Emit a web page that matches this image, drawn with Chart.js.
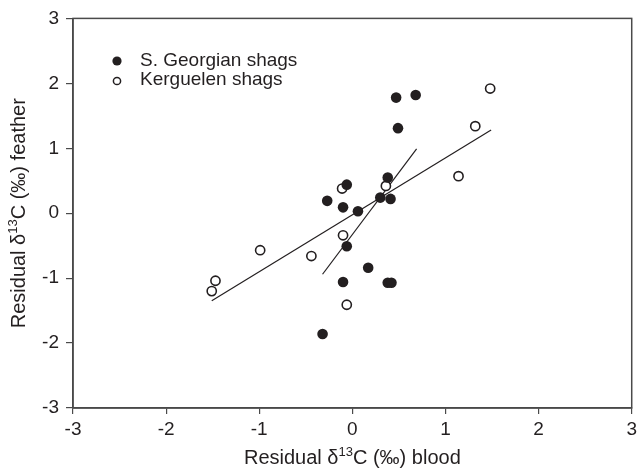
<!DOCTYPE html>
<html>
<head>
<meta charset="utf-8">
<script src="https://cdn.jsdelivr.net/npm/chart.js@4/dist/chart.umd.min.js"></script>
<style>
  html, body { margin: 0; padding: 0; background: #fff; }
  #wrap { width: 641px; height: 475px; }
</style>
</head>
<body>
<div id="wrap"><canvas id="scatter_graph" width="641" height="475"></canvas></div>
<script>
// ---------------- data ---------------- >>
const georgianX = [0.47, 0.68, 0.49, 0.38, -0.06, -0.27, -0.10, 0.06, 0.30, 0.41, -0.06, 0.17, -0.10, 0.38, 0.42, -0.32];
const georgianY = [1.78, 1.82, 1.31, 0.55, 0.44, 0.19, 0.09, 0.03, 0.24, 0.22, -0.51, -0.84, -1.06, -1.07, -1.07, -1.86];
const kerguelenX = [1.48, 1.32, 1.14, 0.36, -0.11, -0.10, -0.99, -0.44, -1.47, -1.51, -0.06];
const kerguelenY = [1.92, 1.34, 0.57, 0.42, 0.38, -0.34, -0.57, -0.66, -1.04, -1.20, -1.41];
const allFitX = [-1.51, 1.49];
const allFitY = [-1.35, 1.28];
const georgianFitX = [-0.32, 0.69];
const georgianFitY = [-0.94, 0.99];
const tickValues = [-3, -2, -1, 0, 1, 2, 3];
const legendLabels = ['S. Georgian shags', 'Kerguelen shags'];

const ink = '#231f20';
const frame = '#4a4a4a';
const fontFam = '"Liberation Sans", Arial, Helvetica, sans-serif';

function pts(xs, ys) {
    return xs.map((x, i) => ({ x: x, y: ys[i] }));
}

// frame, legend and axis titles (titles need the superscript 13)
const extras = {
    id: 'extras',
    afterDraw(chart) {
        const c = chart.ctx;
        const a = chart.chartArea;
        c.save();
        c.strokeStyle = frame;
        c.lineWidth = 1.5;
        c.strokeRect(a.left, a.top, a.right - a.left, a.bottom - a.top);

        // legend
        c.fillStyle = ink;
        c.beginPath();
        c.arc(117, 61, 4.6, 0, Math.PI * 2);
        c.fill();
        c.strokeStyle = ink;
        c.lineWidth = 1.5;
        c.beginPath();
        c.arc(117, 81, 3.6, 0, Math.PI * 2);
        c.stroke();
        c.font = '19px ' + fontFam;
        c.textBaseline = 'middle';
        c.textAlign = 'left';
        c.fillText(legendLabels[0], 140, 61);
        c.fillText(legendLabels[1], 140, 80);

        // axis titles
        drawTitle(c, 'blood', (a.left + a.right) / 2, 457, 0);
        drawTitle(c, 'feather', 18, (a.top + a.bottom) / 2, -Math.PI / 2);
        c.restore();
    }
};

function drawTitle(c, tail, cx, cy, rot) {
    const big = '20px ' + fontFam;
    const small = '13px ' + fontFam;
    const p1 = 'Residual \u03b4';
    const p2 = '13';
    const p3 = 'C (\u2030) ' + tail;
    c.font = big;
    const w1 = c.measureText(p1).width;
    const w3 = c.measureText(p3).width;
    c.font = small;
    const w2 = c.measureText(p2).width;
    const total = w1 + w2 + w3;
    c.save();
    c.translate(cx, cy);
    c.rotate(rot);
    c.fillStyle = ink;
    c.textAlign = 'left';
    c.textBaseline = 'alphabetic';
    let x = -total / 2;
    c.font = big;
    c.fillText(p1, x, 7);
    x += w1;
    c.font = small;
    c.fillText(p2, x, -1);
    x += w2;
    c.font = big;
    c.fillText(p3, x, 7);
    c.restore();
}

const ctx = document.getElementById('scatter_graph').getContext('2d');
const myChart = new Chart(ctx, {
    type: 'scatter',
    data: {
        datasets: [
            {
                label: 'all shags fit',
                data: pts(allFitX, allFitY),
                showLine: true,
                borderColor: ink,
                borderWidth: 1.2,
                pointRadius: 0,
                order: 3
            },
            {
                label: 'S. Georgian fit',
                data: pts(georgianFitX, georgianFitY),
                showLine: true,
                borderColor: ink,
                borderWidth: 1.2,
                pointRadius: 0,
                order: 3
            },
            {
                label: legendLabels[1],
                data: pts(kerguelenX, kerguelenY),
                pointRadius: 4.6,
                pointBackgroundColor: '#ffffff',
                pointBorderColor: ink,
                pointBorderWidth: 1.6,
                order: 2
            },
            {
                label: legendLabels[0],
                data: pts(georgianX, georgianY),
                pointRadius: 5.3,
                pointBackgroundColor: ink,
                pointBorderColor: ink,
                pointBorderWidth: 0,
                order: 1
            }
        ]
    },
    options: {
        responsive: false,
        animation: false,
        layout: { padding: { top: 15, right: 7, left: 0, bottom: 0 } },
        plugins: {
            legend: { display: false },
            tooltip: { enabled: false }
        },
        scales: {
            x: {
                min: -3, max: 3,
                afterBuildTicks(s) { s.ticks = tickValues.map(v => ({ value: v })); },
                afterFit(s) { s.height = 67; },
                grid: { drawOnChartArea: false, drawTicks: true, tickLength: 6, color: frame, lineWidth: 1.2 },
                border: { display: true, color: frame, width: 1.5 },
                ticks: { color: ink, padding: 4, font: { size: 19, family: fontFam }, maxRotation: 0 }
            },
            y: {
                min: -3, max: 3,
                afterBuildTicks(s) { s.ticks = tickValues.map(v => ({ value: v })); },
                afterFit(s) { s.width = 73; },
                grid: { drawOnChartArea: false, drawTicks: true, tickLength: 7, color: frame, lineWidth: 1.2 },
                border: { display: true, color: frame, width: 1.5 },
                ticks: { color: ink, padding: 7, font: { size: 19, family: fontFam } }
            }
        }
    },
    plugins: [extras]
});
</script>
</body>
</html>
